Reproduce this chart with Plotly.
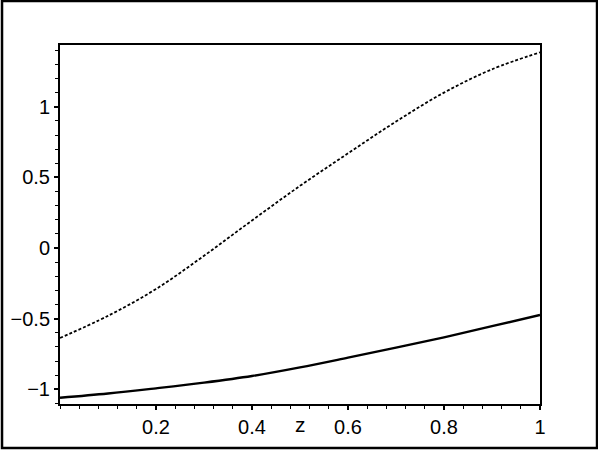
import plotly.graph_objects as go

z = [0.0, 0.1, 0.2, 0.3, 0.4, 0.5, 0.6, 0.7, 0.8, 0.9, 1.0]
dashed_curve = [-0.637, -0.48, -0.29, -0.055, 0.195, 0.44, 0.67, 0.895, 1.10, 1.265, 1.385]
solid_curve = [-1.06, -1.03, -0.993, -0.953, -0.906, -0.845, -0.776, -0.705, -0.632, -0.553, -0.474]

x_ticks = [0.2, 0.4, 0.6, 0.8, 1]
x_labels = ["0.2", "0.4", "0.6", "0.8", "1"]
y_ticks = [-1, -0.5, 0, 0.5, 1]
y_labels = ["\u22121", "\u22120.5", "0", "0.5", "1"]

FONT = "Liberation Sans, Arial, Helvetica, sans-serif"

fig = go.Figure()
fig.add_trace(go.Scatter(x=z, y=dashed_curve, mode="lines",
                         line=dict(color="black", width=1.8, dash="3px,2px", shape="spline"), showlegend=False))
fig.add_trace(go.Scatter(x=z, y=solid_curve, mode="lines",
                         line=dict(color="black", width=2.4, shape="spline"), showlegend=False))

axis_common = dict(
    showgrid=False, zeroline=False, showline=True, linecolor="black", linewidth=2,
    mirror=True, ticks="outside", ticklen=4, tickwidth=1.5, tickcolor="black",
    tickfont=dict(family=FONT, size=20, color="black"),
)

fig.update_xaxes(range=[0, 1], tickvals=x_ticks, ticktext=x_labels,
                 minor=dict(dtick=0.04, tick0=0, ticks="outside", ticklen=3, tickcolor="black", tickwidth=1),
                 **axis_common)
fig.update_yaxes(range=[-1.104, 1.437], tickvals=y_ticks, ticktext=y_labels,
                 minor=dict(dtick=0.1, tick0=0, ticks="outside", ticklen=3, tickcolor="black", tickwidth=1),
                 **axis_common)

fig.add_annotation(x=0.5, xref="x", y=-0.058, yref="paper", text="z", showarrow=False,
                   font=dict(family=FONT, size=21, color="black"), xanchor="center", yanchor="middle")

fig.add_shape(type="rect", xref="paper", yref="paper", x0=-0.1208, x1=1.1188, y0=-0.1226, y1=1.1226,
              line=dict(color="black", width=2.5))

fig.update_layout(width=598, height=450, margin=dict(l=60, r=58, t=45, b=46),
                  plot_bgcolor="white", paper_bgcolor="white")

fig.write_html("out.html", config={"displayModeBar": False},
               post_script="document.body.style.margin='0';document.body.style.overflow='hidden';")
